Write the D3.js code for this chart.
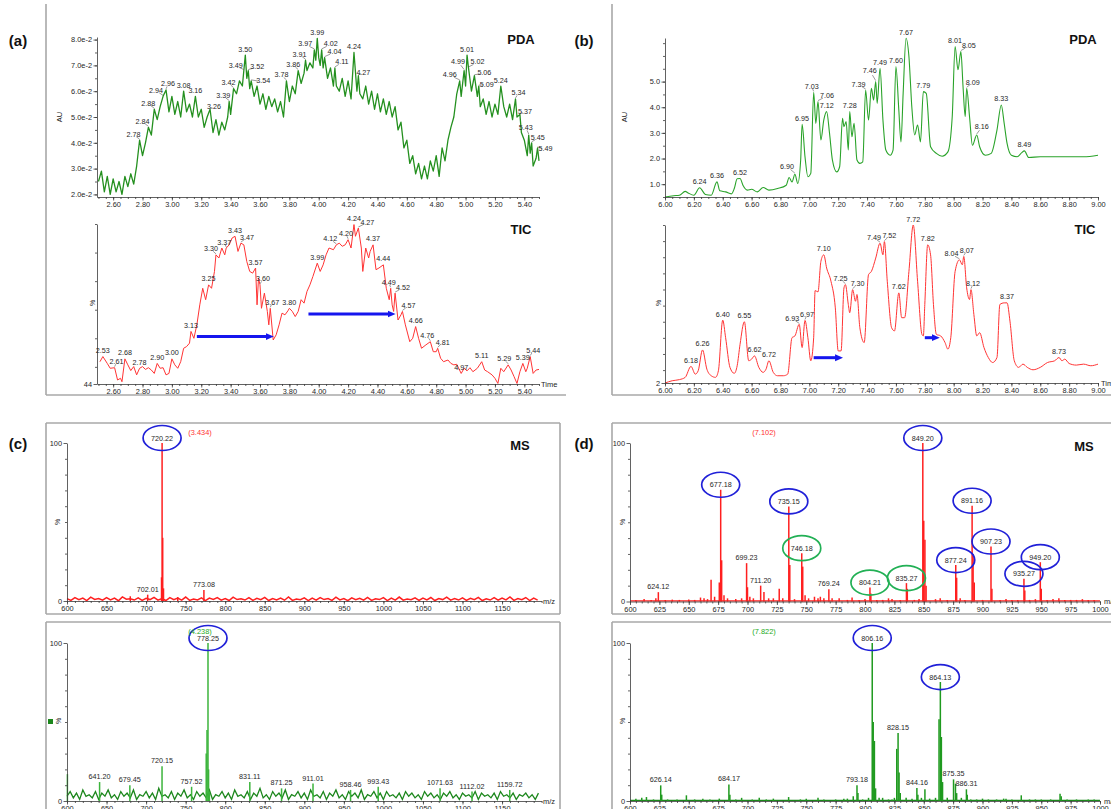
<!DOCTYPE html>
<html>
<head>
<meta charset="utf-8">
<script src="https://cdnjs.cloudflare.com/ajax/libs/d3/7.8.5/d3.min.js"></script>
<style>
  body { margin: 0; background: #fff; }
  svg { display: block; font-family: "Liberation Sans", Arial, sans-serif; }
</style>
</head>
<body>
<svg id="fig" width="1111" height="809"></svg>
<script>
// ---- (a) chromatograms, 2.5 - 5.5 min ----
// PDA trace, [time, AU x 1e-2]
const pdaA = [[2.50,2.5],[2.52,2.9],[2.54,2.1],[2.56,2.7],[2.58,2.0],[2.60,2.6],[2.62,2.1],[2.64,2.5],[2.66,2.0],[2.68,2.7],[2.70,2.3],[2.72,2.8],[2.74,2.4],[2.76,3.1],[2.78,4.1],[2.80,3.5],[2.82,4.0],[2.84,4.6],[2.86,4.3],[2.88,5.3],[2.90,4.9],[2.92,5.4],[2.94,5.8],[2.96,6.05],[2.98,5.2],[3.00,5.8],[3.02,5.1],[3.04,5.6],[3.06,5.0],[3.08,6.0],[3.10,5.2],[3.12,5.5],[3.14,5.0],[3.16,5.8],[3.18,5.0],[3.20,5.3],[3.22,4.6],[3.24,5.0],[3.26,5.3],[3.28,4.4],[3.30,4.9],[3.32,4.3],[3.34,4.8],[3.36,4.5],[3.38,5.0],[3.39,5.6],[3.40,5.1],[3.42,6.1],[3.44,5.9],[3.46,6.4],[3.48,6.2],[3.49,6.8],[3.50,7.4],[3.51,6.5],[3.52,6.8],[3.53,6.1],[3.54,6.4],[3.56,5.8],[3.58,6.2],[3.60,5.5],[3.62,5.9],[3.64,5.3],[3.66,5.8],[3.68,5.4],[3.70,5.7],[3.72,5.2],[3.74,5.6],[3.76,5.0],[3.78,6.4],[3.80,5.6],[3.82,6.2],[3.84,5.9],[3.86,6.8],[3.88,6.3],[3.90,6.7],[3.91,7.2],[3.92,6.8],[3.94,7.1],[3.96,6.9],[3.97,7.6],[3.98,7.2],[3.99,8.05],[4.00,7.3],[4.01,7.0],[4.02,7.6],[4.03,6.9],[4.04,7.3],[4.06,6.5],[4.08,6.9],[4.10,6.2],[4.11,6.9],[4.12,6.2],[4.14,6.0],[4.16,6.5],[4.18,5.8],[4.20,6.4],[4.22,5.7],[4.24,7.5],[4.26,6.0],[4.27,6.6],[4.28,5.9],[4.30,5.7],[4.32,6.2],[4.34,5.5],[4.36,6.0],[4.38,5.3],[4.40,5.9],[4.42,5.2],[4.44,5.7],[4.46,5.1],[4.48,5.6],[4.50,5.0],[4.52,5.4],[4.54,4.5],[4.56,4.8],[4.58,3.8],[4.60,4.1],[4.62,3.2],[4.64,3.5],[4.66,2.8],[4.68,3.2],[4.70,2.6],[4.72,3.1],[4.74,2.6],[4.76,3.3],[4.78,2.9],[4.80,3.5],[4.82,2.7],[4.84,3.8],[4.86,3.3],[4.88,4.1],[4.90,4.6],[4.92,5.0],[4.94,5.9],[4.96,6.4],[4.97,5.8],[4.99,6.8],[5.00,6.2],[5.01,7.4],[5.02,6.9],[5.04,6.0],[5.06,6.6],[5.08,5.8],[5.09,6.2],[5.10,5.4],[5.12,5.7],[5.14,5.1],[5.16,5.6],[5.18,5.0],[5.20,5.5],[5.22,5.1],[5.24,6.2],[5.26,5.4],[5.28,5.0],[5.30,5.5],[5.32,4.9],[5.34,5.7],[5.35,5.0],[5.37,5.1],[5.38,4.4],[5.40,4.1],[5.42,3.5],[5.43,4.3],[5.44,3.6],[5.45,4.0],[5.46,3.1],[5.48,3.4],[5.49,3.8],[5.50,3.3]];
const pdaAPeaks = ['2.78','2.84','2.88','2.94','2.96','3.08','3.16','3.26','3.39','3.42','3.49','3.50','3.52','3.54','3.78','3.86','3.91','3.97','3.99','4.02','4.04','4.11','4.24','4.27','4.96','4.99','5.01','5.02','5.06','5.09','5.24','5.34','5.37','5.43','5.45','5.49'];
// TIC trace, [time, %]
const ticA = [[2.51,51.8],[2.53,53.6],[2.56,51.2],[2.58,49.5],[2.61,49.7],[2.63,45.4],[2.65,46.0],[2.66,44.8],[2.68,52.8],[2.70,50.7],[2.72,48.7],[2.74,50.1],[2.76,47.2],[2.78,49.5],[2.80,50.1],[2.82,49.1],[2.84,49.7],[2.86,48.9],[2.88,47.7],[2.90,51.2],[2.92,49.5],[2.94,49.7],[2.96,47.2],[2.98,47.7],[3.00,52.8],[3.02,50.7],[3.04,49.5],[3.06,51.8],[3.08,56.5],[3.10,57.1],[3.12,58.3],[3.13,62.4],[3.15,60.0],[3.17,64.7],[3.19,71.7],[3.21,77.5],[3.23,73.5],[3.25,78.7],[3.27,77.5],[3.29,83.4],[3.30,89.2],[3.32,88.1],[3.34,91.6],[3.36,89.2],[3.37,91.6],[3.39,92.7],[3.41,95.1],[3.43,95.7],[3.45,90.4],[3.47,93.3],[3.49,92.7],[3.51,86.9],[3.53,83.4],[3.55,82.8],[3.57,84.6],[3.58,71.7],[3.59,81.1],[3.60,78.7],[3.61,70.5],[3.63,75.8],[3.65,69.4],[3.66,64.7],[3.67,70.5],[3.69,59.4],[3.71,61.2],[3.73,64.7],[3.75,68.8],[3.77,68.2],[3.79,69.6],[3.80,70.5],[3.82,69.4],[3.84,67.6],[3.86,69.4],[3.88,73.5],[3.90,72.3],[3.92,76.4],[3.94,78.7],[3.96,81.6],[3.99,86.3],[4.01,83.4],[4.03,85.7],[4.05,89.2],[4.07,91.6],[4.10,91.0],[4.12,92.7],[4.14,93.3],[4.16,92.2],[4.18,92.7],[4.20,94.5],[4.22,91.6],[4.24,99.8],[4.25,95.7],[4.27,98.6],[4.29,91.6],[4.30,83.4],[4.32,91.6],[4.34,88.1],[4.35,90.4],[4.37,92.7],[4.39,84.0],[4.41,84.6],[4.44,85.7],[4.46,77.5],[4.48,73.5],[4.49,77.5],[4.50,71.7],[4.51,69.4],[4.52,75.8],[4.54,66.4],[4.56,68.2],[4.57,69.4],[4.59,64.7],[4.62,58.8],[4.64,60.0],[4.66,64.1],[4.68,60.0],[4.70,56.5],[4.73,57.7],[4.76,58.8],[4.78,55.3],[4.80,55.3],[4.81,56.5],[4.83,53.0],[4.85,51.8],[4.88,52.4],[4.90,51.2],[4.92,50.7],[4.94,50.9],[4.97,47.7],[4.99,49.5],[5.01,48.6],[5.03,49.7],[5.05,48.3],[5.08,49.5],[5.11,51.8],[5.13,48.9],[5.15,48.3],[5.18,47.2],[5.20,46.0],[5.22,44.2],[5.24,49.5],[5.26,48.3],[5.29,50.7],[5.31,48.9],[5.33,46.6],[5.35,44.2],[5.37,48.3],[5.39,51.2],[5.41,48.3],[5.42,49.5],[5.44,53.6],[5.46,47.7],[5.48,48.9],[5.50,49.1]];
const ticAPeaks = ['2.53','2.61','2.68','2.78','2.90','3.00','3.13','3.25','3.30','3.37','3.43','3.47','3.57','3.60','3.67','3.80','3.99','4.12','4.20','4.24','4.27','4.37','4.44','4.49','4.52','4.57','4.66','4.76','4.81','4.97','5.11','5.29','5.39','5.44'];
const arrowsA = [[3.17, 3.68, 60.6], [3.93, 4.51, 68.5]];   // [from, to, % level]
const timeTicksA = [2.6,2.8,3.0,3.2,3.4,3.6,3.8,4.0,4.2,4.4,4.6,4.8,5.0,5.2,5.4];
const auTicksA = [2,3,4,5,6,7,8];

// ---- (b) chromatograms, 6 - 9 min ----
const pdaB = [[6.00,0.50],[6.06,0.55],[6.10,0.57],[6.14,0.72],[6.16,0.66],[6.20,0.57],[6.24,0.86],[6.28,0.60],[6.32,0.57],[6.36,1.09],[6.38,0.74],[6.42,0.70],[6.46,0.62],[6.48,0.83],[6.50,1.21],[6.52,1.22],[6.54,0.96],[6.57,0.77],[6.60,0.80],[6.64,0.70],[6.68,0.87],[6.72,0.77],[6.78,0.83],[6.84,0.96],[6.86,1.26],[6.88,1.09],[6.90,1.39],[6.92,1.03],[6.94,1.94],[6.95,3.33],[6.97,2.07],[6.99,1.29],[7.01,1.42],[7.03,4.58],[7.045,3.37],[7.06,4.22],[7.08,2.72],[7.10,3.50],[7.12,3.83],[7.14,2.98],[7.16,1.94],[7.19,1.48],[7.21,1.68],[7.23,3.57],[7.24,3.24],[7.255,3.44],[7.27,2.33],[7.28,3.83],[7.295,2.85],[7.31,3.37],[7.33,1.94],[7.35,1.81],[7.37,1.87],[7.39,4.67],[7.41,3.50],[7.43,4.74],[7.445,4.28],[7.46,5.00],[7.47,4.15],[7.49,5.52],[7.51,3.50],[7.53,2.33],[7.56,2.13],[7.58,2.33],[7.60,5.59],[7.62,3.89],[7.635,2.65],[7.65,4.54],[7.67,6.69],[7.69,5.98],[7.71,4.02],[7.73,2.92],[7.75,3.31],[7.77,2.65],[7.79,4.61],[7.81,4.54],[7.84,2.46],[7.88,2.20],[7.92,2.09],[7.96,2.26],[7.99,3.63],[8.01,6.37],[8.03,5.46],[8.05,6.17],[8.065,4.80],[8.08,3.63],[8.09,4.74],[8.11,3.63],[8.13,2.52],[8.16,2.92],[8.18,2.46],[8.22,2.13],[8.26,2.20],[8.30,3.11],[8.33,4.09],[8.35,3.37],[8.37,2.59],[8.40,2.13],[8.44,2.07],[8.47,2.22],[8.49,2.30],[8.52,2.04],[8.60,2.07],[8.70,2.07],[8.80,2.07],[8.90,2.07],[9.00,2.13]];
const pdaBPeaks = ['6.24','6.36','6.52','6.90','6.95','7.03','7.06','7.12','7.28','7.39','7.46','7.49','7.60','7.67','7.79','8.01','8.05','8.09','8.16','8.33','8.49'];
const ticB = [[6.00,2.0],[6.05,3.4],[6.10,4.1],[6.14,5.5],[6.18,12.3],[6.21,7.5],[6.23,9.6],[6.26,22.5],[6.29,10.6],[6.32,6.5],[6.35,5.5],[6.37,9.6],[6.40,41.0],[6.42,30.1],[6.45,11.7],[6.48,8.0],[6.50,12.7],[6.52,26.0],[6.55,40.0],[6.58,15.8],[6.60,16.8],[6.62,18.8],[6.65,11.7],[6.68,8.6],[6.70,10.6],[6.72,15.8],[6.75,8.6],[6.78,6.5],[6.82,6.5],[6.85,7.5],[6.88,30.1],[6.90,31.2],[6.93,38.4],[6.95,24.0],[6.97,40.8],[6.99,30.1],[7.01,15.8],[7.03,30.1],[7.04,59.3],[7.06,58.5],[7.08,77.4],[7.10,81.5],[7.12,73.3],[7.15,65.1],[7.18,48.6],[7.20,21.9],[7.22,21.9],[7.24,61.0],[7.25,63.0],[7.27,50.7],[7.28,45.6],[7.30,59.9],[7.32,52.7],[7.33,56.9],[7.35,36.3],[7.38,27.1],[7.41,69.2],[7.43,71.2],[7.46,79.5],[7.49,88.7],[7.51,81.5],[7.52,89.7],[7.54,65.1],[7.57,36.3],[7.59,34.3],[7.62,57.9],[7.64,42.5],[7.66,42.5],[7.69,71.2],[7.72,100],[7.75,65.1],[7.78,32.2],[7.79,31.2],[7.80,50.7],[7.82,87.7],[7.84,81.5],[7.86,50.7],[7.88,32.2],[7.91,31.2],[7.94,27.1],[7.96,23.0],[7.98,30.1],[8.01,71.2],[8.04,78.4],[8.06,75.3],[8.07,80.5],[8.09,61.0],[8.11,53.8],[8.12,59.9],[8.14,44.5],[8.16,31.2],[8.18,33.2],[8.21,24.0],[8.24,17.8],[8.27,14.7],[8.30,17.8],[8.32,50.7],[8.35,51.7],[8.37,51.7],[8.39,40.4],[8.42,15.8],[8.45,11.7],[8.48,13.7],[8.51,11.7],[8.55,10.2],[8.60,11.7],[8.65,14.7],[8.70,15.8],[8.73,17.8],[8.75,15.8],[8.77,16.8],[8.80,14.1],[8.85,13.1],[8.90,13.7],[8.95,12.7],[9.00,13.7]];
const ticBPeaks = ['6.18','6.26','6.40','6.55','6.62','6.72','6.93','6.97','7.10','7.25','7.30','7.49','7.52','7.62','7.72','7.82','8.04','8.07','8.12','8.37','8.73'];
const arrowsB = [[7.03, 7.22, 17.7], [7.80, 7.89, 30.1]];
const timeTicksB = [6.0,6.2,6.4,6.6,6.8,7.0,7.2,7.4,7.6,7.8,8.0,8.2,8.4,8.6,8.8,9.0];
const auTicksB = [1,2,3,4,5];

// ---- mass spectra, [m/z, %] ----
const noiseStartMz = 600;
const msC1Noise = [1.5,0.4,2.1,0.8,1.9,0.3,2.4,1.0,1.6,0.5,2.2,0.7,1.8,0.2,2.6,1.1,1.4,0.6,2.0,0.4,
  1.7,0.9,2.3,0.5,1.5,0.3,2.1,0.8,1.9,0.6,2.5,0.4,1.3,0.7,2.0,0.2,1.8,1.0,2.2,0.5,
  1.6,0.3,2.4,0.9,1.4,0.6,2.1,0.4,1.7,0.8,2.3,0.3,1.5,0.7,1.9,0.5,2.6,0.4,1.2,0.8,
  2.0,0.3,1.8,0.6,2.2,0.9,1.5,0.4,2.4,0.7,1.6,0.2,2.0,0.8,1.7,0.5,2.3,0.4,1.4,0.9,
  2.1,0.3,1.9,0.6,2.5,0.5,1.3,0.8,2.0,0.4,1.8,0.7,2.2,0.3,1.6,0.9,2.4,0.5,1.5,0.6,
  2.0,0.4,1.7,0.8,2.3,0.3,1.4,0.6,2.1,0.5,1.9,0.7,2.6,0.4,1.5,0.8,2.2,0.3,1.8,0.6];
const msC1Step = 5;
const msC1Sticks = [[680,3],[702.01,4],[719.5,15],[720.22,100],[721,40],[722,8],[740,2.5],[773.08,7]];
const msC1Labels = [['702.01',''],['720.22','blue'],['773.08','']];

const msC2Noise = [3,6,2,5,1,7,3,4,2,6,1,5,3,7,2,4,1,6,3,5,2,7,1,4,3,6,2,5,1,8,
  3,4,2,6,1,5,3,7,2,4,1,6,3,5,2,7,1,4,3,6,2,5,1,7,3,4,2,6,1,5,
  3,8,2,4,1,6,3,5,2,7,1,4,3,6,2,5,1,7,3,4,2,6,1,5,3,7,2,4,1,6,
  3,5,2,7,1,4,3,6,2,5,1,6,3,4,2,5,1,6,3,5,2,4,1,6,3,5,2,4,1,5,
  3,6,2,4,1,5,3,4,2,6,1,5,3,4,2,5,1,6,3,4,2,5,1,4,3,5,2,4,1,5];
const msC2Step = 4;
const msC2Sticks = [[600.5,17],[641.20,12],[679.45,10],[720.15,22],[757.52,9],[776,30],[777,45],[778.25,100],[779,20],[780,6],[831.11,12],[871.25,8],[911.01,11],[958.46,7],[993.43,9],[1071.63,8],[1112.02,6],[1159.72,7]];
const msC2Labels = [['641.20',''],['679.45',''],['720.15',''],['757.52',''],['778.25','blue'],['831.11',''],['871.25',''],['911.01',''],['958.46',''],['993.43',''],['1071.63',''],['1112.02',''],['1159.72','']];

const msD1Sticks = [[605,1],[612,1.5],[618,1],[622,2],[624.12,5.9],[630,1],[636,1.2],[642,1],[650,1.3],[655,1],[660,2.5],[663,2],[666,1.5],[669,13.7],[672,3],[676,12],[677.18,70.5],[678,26],[680,4],[683,2],[690,1.5],[695,2],[699.23,24.2],[700,9],[702,3],[705,2],[711.2,10],[714,6],[718,2],[722,2],[727,8],[730,2],[735.15,60],[736,23],[740,1.5],[746.18,30.5],[747,22],[749,4],[752,2],[757,3],[760,2],[762,3],[765,2],[769.24,7.8],[772,2],[778,2],[785,1],[789,2.5],[795,1],[800,1.5],[804.21,8.8],[805,5],[810,1],[815,1],[820,2],[823,1.5],[830,1],[835.27,11.6],[836,8],[842,1],[846,1.5],[849.20,100],[850,51],[851,39],[852,10],[860,1.5],[864,2],[870,1],[877.24,23],[878,15],[881,2],[885,1],[891.16,60.4],[892,30],[893,12],[900,1],[907.23,34.7],[908,8],[915,1],[920,1.5],[925,1],[930,1],[935.27,14.3],[936,7],[940,1],[945,1.5],[949.20,24.8],[950,8],[955,1],[960,1.5],[965,2],[970,1],[975,1],[980,1],[985,1.5],[990,1],[995,1]];
const msD1Labels = [['624.12',''],['677.18','blue'],['699.23',''],['711.20',''],['735.15','blue'],['746.18','green'],['769.24',''],['804.21','green'],['835.27','green'],['849.20','blue'],['877.24','blue'],['891.16','blue'],['907.23','blue'],['935.27','blue'],['949.20','blue']];

const msD2Sticks = [[605,1.5],[610,2],[614,2.5],[620,1],[626.14,9.9],[627,4],[632,1],[640,1],[648,3.6],[655,1],[662,1.5],[668,1],[676,1.5],[684.17,10.5],[685,4],[690,1],[695,2],[704,1],[710,2],[716,1],[722,1.5],[735,2.5],[745,1],[750,1.5],[760,2],[765,1],[775,1],[782,1.5],[785,1.5],[790,3],[793.18,9.9],[794,5],[798,1],[803,2],[806.16,100],[807,50],[808,38],[809,8],[812,2],[815,2],[820,1],[823,1],[825,2],[827,33],[828.15,43],[829,18],[830,5],[835,2],[840,1.5],[844.16,8.2],[845,4],[848,2],[851,7.4],[855,1.5],[860,2],[863,51.7],[864.13,75.3],[865,40.5],[866,12],[870,2],[875.35,13.7],[877,11],[878,5],[882,2],[886.31,7.4],[887,4],[890,1],[895,1],[900,1.5],[905,1],[912,1],[918,1.5],[920,1.5],[925,1],[933,3.6],[940,1],[945,1],[950,1],[958,1],[966,4.6],[967,3],[972,1],[980,1],[990,1],[995,1]];
const msD2Labels = [['626.14',''],['684.17',''],['793.18',''],['806.16','blue'],['828.15',''],['844.16',''],['864.13','blue'],['875.35',''],['886.31','']];

const mzTicksC = [600,650,700,750,800,850,900,950,1000,1050,1100,1150];
const mzTicksD = [600,625,650,675,700,725,750,775,800,825,850,875,900,925,950,975,1000];
const scanTimes = ['(3.434)', '(4.238)', '(7.102)', '(7.822)'];

// ---------------------------------------------------------------
const svg = d3.select('#fig');
const txt = '#262626';
const ring = { blue: '#2020d8', green: '#22b055' };

// label nudges so neighbouring peak labels do not sit on each other
const shiftPdaA = {'2.78':[-6,0],'2.84':[-6,0],'2.88':[-6,0],'2.94':[-7,0],'2.96':[2,0],'3.26':[4,3],'3.39':[-6,0],'3.42':[-5,0],'3.49':[-8,1],'3.52':[9,2],'3.54':[12,6],'3.78':[-5,0],'3.86':[-5,0],'3.91':[-6,0],'3.97':[-9,0],'4.02':[9,0],'4.04':[10,0],'4.11':[7,0],'4.27':[5,3],'4.96':[-10,0],'4.99':[-6,-3],'5.02':[9,0],'5.06':[10,3],'5.09':[8,4],'5.34':[3,0],'5.37':[5,3],'5.43':[-3,-2],'5.45':[6,1],'5.49':[8,7]};
const shiftTicA = {'3.30':[-5,0],'3.37':[-2,0],'3.47':[6,0],'3.60':[3,0],'3.67':[2,0],'4.12':[-6,0],'4.20':[-2,0],'4.27':[9,0],'4.49':[-2,0],'4.52':[8,0],'4.57':[6,0],'4.76':[-3,0],'4.81':[5,0],'5.29':[-4,0],'5.44':[3,0],'2.61':[2,0]};
const shiftPdaB = {'6.90':[-8,-2],'7.06':[9,0],'7.39':[-7,0],'7.46':[-6,-5],'8.05':[8,0],'8.09':[6,0],'8.16':[5,-2],'7.03':[-2,0]};
const shiftTicB = {'6.93':[-7,0],'6.97':[2,0],'7.25':[-5,0],'7.30':[5,0],'7.49':[-6,0],'7.52':[5,0],'8.04':[-8,0],'8.07':[3,0],'8.12':[2,0]};

function styleAxis(g) {
  g.selectAll('path,line').attr('stroke', '#3a3a3a').attr('stroke-width', 0.8);
  g.selectAll('text').attr('font-size', '7.4px').attr('fill', txt).attr('font-family', null);
}

function xAxis(x, y0, major, minorStep, fmt) {
  const lo = x.domain()[0], hi = x.domain()[1];
  const gm = svg.append('g').attr('transform', `translate(0,${y0})`)
    .call(d3.axisBottom(x).tickValues(d3.range(Math.ceil(lo / minorStep) * minorStep, hi + 1e-9, minorStep)).tickSize(2).tickFormat(''));
  gm.select('.domain').remove();
  styleAxis(gm);
  const g = svg.append('g').attr('transform', `translate(0,${y0})`)
    .call(d3.axisBottom(x).tickValues(major).tickSize(3.5).tickSizeOuter(0).tickPadding(1.5).tickFormat(fmt));
  styleAxis(g);
}

function yAxis(y, x0, major, minor, fmt) {
  const gm = svg.append('g').attr('transform', `translate(${x0},0)`)
    .call(d3.axisLeft(y).tickValues(minor).tickSize(2).tickFormat(''));
  gm.select('.domain').remove();
  styleAxis(gm);
  const g = svg.append('g').attr('transform', `translate(${x0},0)`)
    .call(d3.axisLeft(y).tickValues(major).tickSize(3.5).tickSizeOuter(0).tickPadding(1.5).tickFormat(fmt));
  styleAxis(g);
}

function vlabel(x, y, s, size) {
  svg.append('text').attr('transform', `translate(${x},${y}) rotate(-90)`)
    .attr('text-anchor', 'middle').attr('font-size', size).attr('fill', txt).text(s);
}

function title(x, y, s) {
  svg.append('text').attr('x', x).attr('y', y).attr('text-anchor', 'middle')
    .attr('font-size', '13px').attr('font-weight', 'bold').attr('fill', '#111').text(s);
}

function trace(data, x, y, color, curve, w) {
  svg.append('path').datum(data)
    .attr('d', d3.line().x(d => x(d[0])).y(d => y(d[1])).curve(curve))
    .attr('fill', 'none').attr('stroke', color).attr('stroke-width', w).attr('stroke-linejoin', 'round');
}

function peakLabels(data, times, shift, x, y) {
  const g = svg.append('g');
  times.forEach(t => {
    const p = d3.least(data, d => Math.abs(d[0] - (+t)));
    const [dx, dy] = shift[t] || [0, 0];
    const px = x(p[0]), py = y(p[1]);
    if (dx || dy) {
      g.append('line').attr('x1', px).attr('y1', py - 1)
        .attr('x2', px + dx * 0.55).attr('y2', py - 3.5 + dy * 0.6)
        .attr('stroke', '#555').attr('stroke-width', 0.6);
    }
    g.append('text').attr('x', px + dx).attr('y', py - 3.5 + dy)
      .attr('text-anchor', 'middle').attr('font-size', '7.2px').attr('fill', txt).text(t);
  });
}

function arrows(list, x, y) {
  svg.selectAll(null).data(list).join('line')
    .attr('x1', d => x(d[0])).attr('x2', d => x(d[1]) - 5)
    .attr('y1', d => y(d[2])).attr('y2', d => y(d[2]))
    .attr('stroke', '#1616ee').attr('stroke-width', 3)
    .attr('marker-end', 'url(#arrowhead)');
}

function frame(x0, y0, x1, y1, sides) {
  const pts = { l: [x0, y0, x0, y1], r: [x1, y0, x1, y1], t: [x0, y0, x1, y0], b: [x0, y1, x1, y1] };
  sides.split('').forEach(s => {
    const p = pts[s];
    svg.append('line').attr('x1', p[0]).attr('y1', p[1]).attr('x2', p[2]).attr('y2', p[3])
      .attr('stroke', '#a8a8a8').attr('stroke-width', 1.6);
  });
}

function spectrum(x, y, noise, step, sticks, labels, noiseColor, stickColor, noiseW) {
  if (noise) {
    svg.append('path').datum(noise)
      .attr('d', d3.line().x((d, i) => x(noiseStartMz + i * step)).y(d => y(d)))
      .attr('fill', 'none').attr('stroke', noiseColor).attr('stroke-width', noiseW);
  } else {
    svg.append('line').attr('x1', x.range()[0]).attr('x2', x.range()[1])
      .attr('y1', y(0.4)).attr('y2', y(0.4)).attr('stroke', noiseColor).attr('stroke-width', 1.1);
  }
  svg.append('g').selectAll('line').data(sticks).join('line')
    .attr('x1', d => x(d[0])).attr('x2', d => x(d[0]))
    .attr('y1', y(0)).attr('y2', d => y(d[1]))
    .attr('stroke', stickColor).attr('stroke-width', 1.5);
  const g = svg.append('g');
  labels.forEach(([mz, c]) => {
    const p = d3.least(sticks, d => Math.abs(d[0] - (+mz)));
    const px = x(p[0]), py = y(p[1]);
    if (c) {
      g.append('ellipse').attr('cx', px).attr('cy', py - 5).attr('rx', 19).attr('ry', 12.5)
        .attr('fill', 'none').attr('stroke', ring[c]).attr('stroke-width', 1.7);
      g.append('text').attr('x', px).attr('y', py - 2.5).attr('text-anchor', 'middle')
        .attr('font-size', '7.2px').attr('fill', txt).text(mz);
    } else {
      g.append('text').attr('x', px).attr('y', py - 3).attr('text-anchor', 'middle')
        .attr('font-size', '7.2px').attr('fill', txt).text(mz);
    }
  });
}

svg.append('defs').append('marker').attr('id', 'arrowhead')
  .attr('viewBox', '0 0 8 8').attr('refX', 1).attr('refY', 4)
  .attr('markerWidth', 8).attr('markerHeight', 8).attr('markerUnits', 'userSpaceOnUse')
  .attr('orient', 'auto')
  .append('path').attr('d', 'M0,0.5 L8,4 L0,7.5 Z').attr('fill', '#1616ee');

// ---- panel frames and letters ----
frame(46, 4, 566, 395, 'lb');
frame(612, 4, 1111, 395, 'lb');
frame(46, 423, 560, 614, 'ltrb');
frame(46, 622, 560, 815, 'ltr');
frame(612, 423, 1120, 614, 'ltb');
frame(612, 622, 1120, 815, 'lt');
[['(a)', 18, 46], ['(b)', 584, 46], ['(c)', 18, 449], ['(d)', 584, 449]].forEach(([s, x, y]) => {
  svg.append('text').attr('x', x).attr('y', y).attr('text-anchor', 'middle')
    .attr('font-size', '15px').attr('font-weight', 'bold').attr('fill', '#111').text(s);
});

// ---- (a) ----
const xA = d3.scaleLinear().domain([2.49, 5.50]).range([97, 539]);
const yPdaA = d3.scaleLinear().domain([1.9, 8.1]).range([197, 37]);
const yTicA = d3.scaleLinear().domain([44, 100]).range([384, 224]);
trace(pdaA, xA, yPdaA, '#24901f', d3.curveLinear, 1.3);
xAxis(xA, 197, timeTicksA, 0.05, d3.format('.2f'));
yAxis(yPdaA, 97, auTicksA, d3.range(2, 8.01, 0.5), d => d.toFixed(1) + 'e-2');
peakLabels(pdaA, pdaAPeaks, shiftPdaA, xA, yPdaA);
vlabel(62, 117, 'AU', '7.5px');
title(521, 44, 'PDA');

trace(ticA, xA, yTicA, '#ff3434', d3.curveLinear, 1);
xAxis(xA, 384, timeTicksA, 0.05, d3.format('.2f'));
yAxis(yTicA, 97, [44], d3.range(50, 101, 10), d => d);
peakLabels(ticA, ticAPeaks, shiftTicA, xA, yTicA);
arrows(arrowsA, xA, yTicA);
vlabel(95, 303, '%', '7px');
svg.append('text').attr('x', 541).attr('y', 386.5).attr('font-size', '7.5px').attr('fill', txt).text('Time');
title(521, 234, 'TIC');

// ---- (b) ----
const xB = d3.scaleLinear().domain([6.0, 9.0]).range([665, 1098]);
const yPdaB = d3.scaleLinear().domain([0.5, 6.7]).range([197, 38]);
const yTicB = d3.scaleLinear().domain([2, 100]).range([383, 225]);
trace(pdaB, xB, yPdaB, '#2aa32a', d3.curveMonotoneX, 1.1);
xAxis(xB, 197, timeTicksB, 0.05, d3.format('.2f'));
yAxis(yPdaB, 665, auTicksB, d3.range(0.5, 6.71, 0.5), d3.format('.1f'));
peakLabels(pdaB, pdaBPeaks, shiftPdaB, xB, yPdaB);
vlabel(627, 117, 'AU', '7.5px');
title(1083, 44, 'PDA');

trace(ticB, xB, yTicB, '#ff3434', d3.curveMonotoneX, 1);
xAxis(xB, 383, timeTicksB, 0.05, d3.format('.2f'));
yAxis(yTicB, 665, [2], d3.range(10, 101, 10), d => d);
peakLabels(ticB, ticBPeaks, shiftTicB, xB, yTicB);
arrows(arrowsB, xB, yTicB);
vlabel(661, 303, '%', '7px');
svg.append('text').attr('x', 1101).attr('y', 385.5).attr('font-size', '7.5px').attr('fill', txt).text('Time');
title(1085, 234, 'TIC');

// ---- (c) ----
const xC = d3.scaleLinear().domain([600, 1200]).range([67, 541.6]);
const yC1 = d3.scaleLinear().domain([0, 100]).range([601, 443]);
const yC2 = d3.scaleLinear().domain([0, 100]).range([801, 643]);
spectrum(xC, yC1, msC1Noise, msC1Step, msC1Sticks, msC1Labels, '#ff1f1f', '#ff1f1f', 1.5);
xAxis(xC, 601, mzTicksC, 10, d => d);
yAxis(yC1, 67, [0, 100], d3.range(10, 100, 10), d => d);
vlabel(60, 522, '%', '7px');
svg.append('text').attr('x', 543).attr('y', 604).attr('font-size', '7.5px').attr('fill', txt).text('m/z');
svg.append('text').attr('x', 200).attr('y', 434.5).attr('text-anchor', 'middle').attr('font-size', '7.4px').attr('fill', '#ff3030').text(scanTimes[0]);
title(520, 450, 'MS');

spectrum(xC, yC2, msC2Noise, msC2Step, msC2Sticks, msC2Labels, '#1c871c', '#3cb43c', 1.3);
xAxis(xC, 801, mzTicksC, 10, d => d);
yAxis(yC2, 67, [0, 100], d3.range(10, 100, 10), d => d);
vlabel(61, 721, '%', '7px');
svg.append('rect').attr('x', 48).attr('y', 719).attr('width', 5).attr('height', 5).attr('fill', '#1c871c');
svg.append('text').attr('x', 543).attr('y', 804).attr('font-size', '7.5px').attr('fill', txt).text('m/z');
svg.append('text').attr('x', 200).attr('y', 633.5).attr('text-anchor', 'middle').attr('font-size', '7.4px').attr('fill', '#22aa22').text(scanTimes[1]);

// ---- (d) ----
const xD = d3.scaleLinear().domain([600, 1000]).range([630, 1100]);
const yD1 = d3.scaleLinear().domain([0, 100]).range([601.5, 443]);
const yD2 = d3.scaleLinear().domain([0, 100]).range([801, 643]);
spectrum(xD, yD1, null, 0, msD1Sticks, msD1Labels, '#ff1f1f', '#ff1f1f', 1);
xAxis(xD, 601.5, mzTicksD, 5, d => d);
yAxis(yD1, 630, [0, 100], d3.range(10, 100, 10), d => d);
vlabel(625, 522, '%', '7px');
svg.append('text').attr('x', 1104).attr('y', 604).attr('font-size', '7.5px').attr('fill', txt).text('m/z');
svg.append('text').attr('x', 764).attr('y', 434.5).attr('text-anchor', 'middle').attr('font-size', '7.4px').attr('fill', '#ff3030').text(scanTimes[2]);
title(1084, 451, 'MS');

spectrum(xD, yD2, null, 0, msD2Sticks, msD2Labels, '#1c871c', '#1f9a1f', 1);
xAxis(xD, 801, mzTicksD, 5, d => d);
yAxis(yD2, 630, [0, 100], d3.range(10, 100, 10), d => d);
vlabel(625, 721, '%', '7px');
svg.append('text').attr('x', 1104).attr('y', 804).attr('font-size', '7.5px').attr('fill', txt).text('m/z');
svg.append('text').attr('x', 764).attr('y', 633.5).attr('text-anchor', 'middle').attr('font-size', '7.4px').attr('fill', '#22aa22').text(scanTimes[3]);
</script>
</body>
</html>
